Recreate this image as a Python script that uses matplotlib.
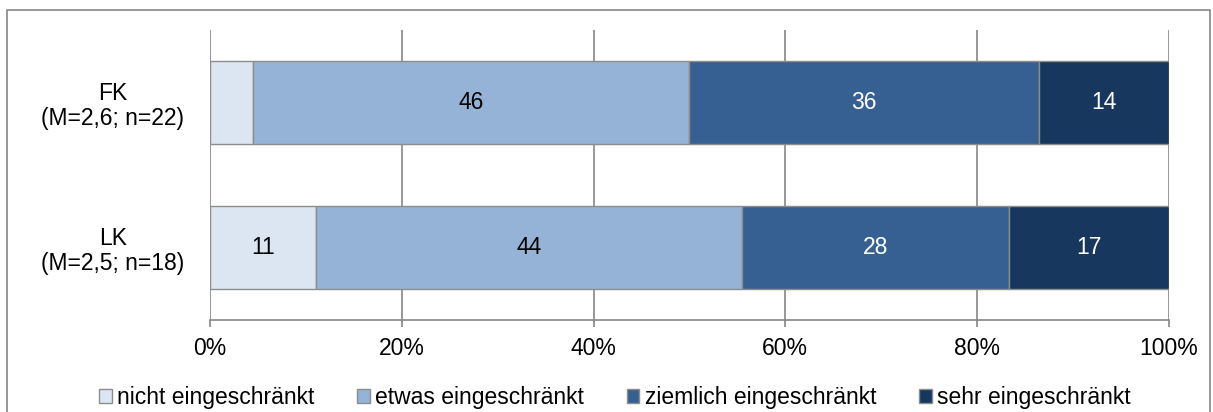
import matplotlib.pyplot as plt
import matplotlib.patches as mpatches
import numpy as np

plt.rcParams['font.family'] = ['Liberation Sans', 'DejaVu Sans']

groups = ["LK\n(M=2,5; n=18)", "FK\n(M=2,6; n=22)"]
categories = ["nicht eingeschränkt", "etwas eingeschränkt",
              "ziemlich eingeschränkt", "sehr eingeschränkt"]
# Anteile in Prozent (LK, FK)
nicht = [11.1, 4.5]
etwas = [44.4, 45.5]
ziemlich = [27.8, 36.4]
sehr = [16.7, 13.6]
colors = ["#DCE6F2", "#95B3D7", "#376092", "#17375E"]
textcol = ["black", "black", "white", "white"]
fs = 16.5

fig = plt.figure(figsize=(12.13, 4.12), dpi=100)
ax = fig.add_axes([0.1731, 0.2233, 0.7906, 0.7039])

# Rahmen um die Grafik
fig.patches.append(mpatches.Rectangle((7 / 1213, -0.1), 1203 / 1213, 1.1 - 10 / 412,
                                      transform=fig.transFigure, fill=False,
                                      edgecolor="#868686", linewidth=1.2))

y = np.arange(len(groups))
left = np.zeros(len(groups))
for vals, cat, col, tc in zip([nicht, etwas, ziemlich, sehr], categories, colors, textcol):
    bars = ax.barh(y, vals, left=left, height=0.566, color=col, edgecolor="#8c8c8c",
                   linewidth=1.0, label=cat, zorder=3)
    for b, v, l in zip(bars, vals, left):
        if v >= 5:
            ax.text(l + v / 2, b.get_y() + b.get_height() / 2, f"{v:.0f}",
                    ha="center", va="center", color=tc, fontsize=fs, zorder=4)
    left += np.array(vals)

ax.set_xlim(0, 100)
ax.set_ylim(-0.5, 1.5)
ax.set_xticks(np.arange(0, 101, 20))
ax.set_xticklabels([f"{t}%" for t in range(0, 101, 20)], fontsize=fs)
ax.set_yticks(y)
ax.set_yticklabels(groups, fontsize=fs, ha="center", linespacing=1.1)
ax.tick_params(axis="y", length=0, pad=70)
ax.tick_params(axis="x", length=5, width=1.2, color="#868686", pad=7)
ax.xaxis.grid(True, color="#868686", linewidth=1.2, zorder=0)
for s in ["top", "right", "left"]:
    ax.spines[s].set_visible(False)
ax.spines["bottom"].set_color("#868686")
ax.spines["bottom"].set_linewidth(1.2)

leg = ax.legend(loc="center", bbox_to_anchor=(0.4223, -0.268),
                ncol=4, frameon=False, fontsize=fs, handlelength=0.55, handleheight=0.55,
                handletextpad=0.25, columnspacing=1.85, borderaxespad=0, borderpad=0)
for h in leg.legend_handles:
    h.set_edgecolor("#8c8c8c")

fig.savefig("out.png", dpi=100)
